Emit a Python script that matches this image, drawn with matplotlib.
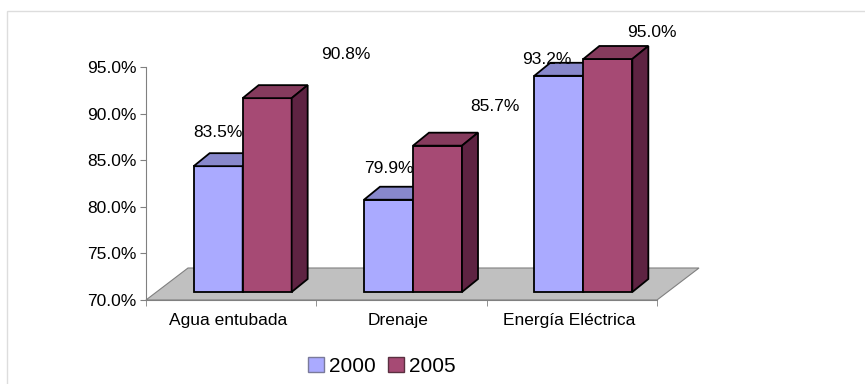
import numpy as np
import matplotlib
matplotlib.use("Agg")
import matplotlib.pyplot as plt
from matplotlib.patches import Polygon, Patch, Rectangle
from matplotlib.transforms import ScaledTranslation

plt.rcParams['font.family'] = ['Liberation Sans', 'DejaVu Sans']

categories = ['Agua entubada', 'Drenaje', 'Energía Eléctrica']
years = ['2000', '2005']
v2000 = [83.5, 79.9, 93.2]
v2005 = [90.8, 85.7, 95.0]
yticks = [70, 75, 80, 85, 90, 95]

front = ['#aaaaff', '#a64a74']
top = ['#8888cc', '#853b5d']
side = ['#6f6fa8', '#5e2342']

W, H = 865, 384
fig = plt.figure(figsize=(W / 100, H / 100), dpi=100)
ax = fig.add_axes([146 / W, 84 / H, 511 / W, 233 / H])
ax.set_xlim(-0.5, 2.5)
ax.set_ylim(70, 95)

# pixel sizes converted to data units
px_x = 3 / 511
px_y = 25 / 233
bw = 49 * px_x
ddx, ddy = 16 * px_x, 13 * px_y
base = 70

# floor of the 3d plot
fdx, fdy = 42 * px_x, 32 * px_y
floor = Polygon([(-0.5, base), (2.5, base), (2.5 + fdx, base + fdy), (-0.5 + fdx, base + fdy)],
                closed=True, facecolor='#c0c0c0', edgecolor='#808080', lw=0.8,
                zorder=1, clip_on=False)
ax.add_patch(floor)

# bars sit a bit behind the front edge of the floor
shift = ax.transData + ScaledTranslation(11.5 / 100, 8 / 100, fig.dpi_scale_trans)

x = np.arange(len(categories))
for s, vals in enumerate([v2000, v2005]):
    xs = x - bw / 2 + s * bw
    bars = ax.bar(xs, np.array(vals) - base, bottom=base, width=bw,
                  color=front[s], edgecolor='black', lw=1.3,
                  zorder=3 + s, transform=shift, clip_on=False)
    for xc, v in zip(xs, vals):
        x0, x1 = xc - bw / 2, xc + bw / 2
        t = Polygon([(x0, v), (x1, v), (x1 + ddx, v + ddy), (x0 + ddx, v + ddy)],
                    facecolor=top[s], edgecolor='black', lw=1.3, zorder=3 + s,
                    transform=shift, clip_on=False)
        sd = Polygon([(x1, base), (x1 + ddx, base + ddy), (x1 + ddx, v + ddy), (x1, v)],
                     facecolor=side[s], edgecolor='black', lw=1.3, zorder=3 + s,
                     transform=shift, clip_on=False)
        ax.add_patch(t)
        ax.add_patch(sd)

# value labels, offsets in pixels from the top of each bar
offsets = [[(0, 34), (0, 31), (-12, 16)],
           [(79, 44), (57, 39), (44, 27)]]
for s, vals in enumerate([v2000, v2005]):
    xs = x - bw / 2 + s * bw
    for i, (xc, v) in enumerate(zip(xs, vals)):
        ox, oy = offsets[s][i]
        ax.annotate(f'{v:.1f}%', (xc, v), xycoords=shift,
                    xytext=(ox, oy), textcoords='offset pixels',
                    ha='center', va='center', fontsize=12.5, zorder=6,
                    annotation_clip=False)

ax.set_yticks(yticks)
ax.set_yticklabels([f'{t:.1f}%' for t in yticks])
ax.set_xticks(x - 3 * px_x)
ax.set_xticklabels(categories)
ax.set_xticks([-0.5, 0.5, 1.5, 2.5], minor=True)
ax.tick_params(axis='y', length=4, color='#808080', labelsize=12.5, pad=3)
ax.tick_params(axis='x', which='major', length=0, labelsize=12.5, pad=9)
ax.tick_params(axis='x', which='minor', length=4, color='#808080')
for sp in ['top', 'right']:
    ax.spines[sp].set_visible(False)
ax.spines['left'].set_color('#808080')
ax.spines['bottom'].set_color('#808080')
ax.patch.set_alpha(0)

handles = [Patch(facecolor=front[0], edgecolor='#7a7a9a', lw=1),
           Patch(facecolor=front[1], edgecolor='#5a3040', lw=1)]
fig.legend(handles, years, loc='center', bbox_to_anchor=(382 / W, 1 - 366 / H),
           ncol=2, frameon=False, fontsize=15, handlelength=0.75, handleheight=0.75,
           handletextpad=0.25, columnspacing=0.6)

# light outer border (only top and left visible)
fig.add_artist(Rectangle((7 / W, -0.1), 1.2, (H - 11) / H + 0.1, transform=fig.transFigure,
                         fill=False, edgecolor='#dddddd', lw=1))

fig.savefig('out.png', dpi=100)
